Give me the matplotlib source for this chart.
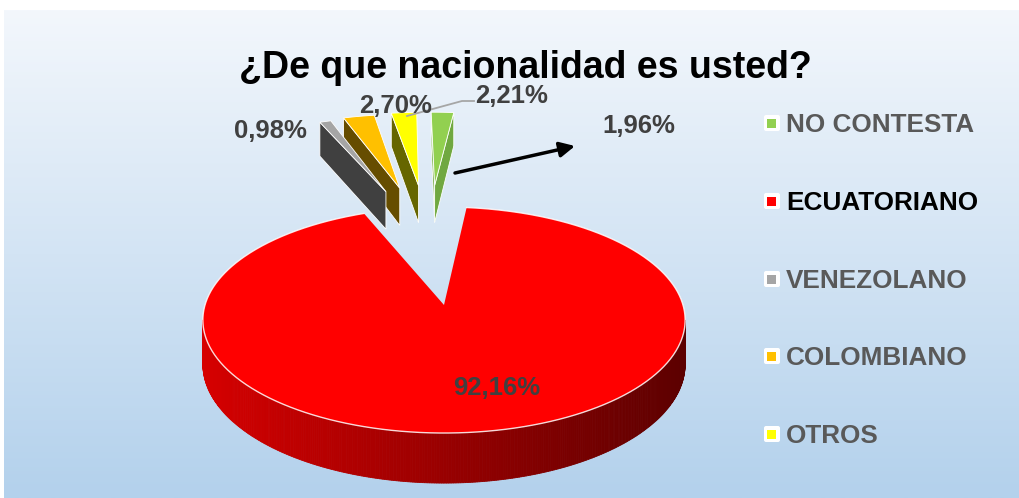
import matplotlib.pyplot as plt
import numpy as np
from matplotlib.patches import Polygon, Rectangle, FancyBboxPatch
from matplotlib.colors import LinearSegmentedColormap, to_rgb

# data (legend / series order)
categories = ['NO CONTESTA', 'ECUATORIANO', 'VENEZOLANO', 'COLOMBIANO', 'OTROS']
values = [1.96, 92.16, 0.98, 2.70, 2.21]
pct_labels = ['1,96%', '92,16%', '0,98%', '2,70%', '2,21%']

colors = ['#92D050', '#FF0000', '#A5A5A5', '#FFC000', '#FFFF00']
side_colors = ['#70A840', '#B00000', '#404040', '#664D00', '#666600']
exploded = [True, False, True, True, True]

W, H = 1020, 498
fig = plt.figure(figsize=(W / 100, H / 100), dpi=100)
ax = fig.add_axes([0, 0, 1, 1])

# background gradient
bg = LinearSegmentedColormap.from_list('bg', ['#F3F7FC', '#B3D1EC'])
ax.imshow(np.linspace(0, 1, 256).reshape(-1, 1), cmap=bg, extent=(4, W, H, 10),
          aspect='auto', zorder=0)
ax.set_xlim(0, W)
ax.set_ylim(H, 0)
ax.axis('off')

# perspective pie projection (screen pixels)
CX, CY = 444, 305
SX, SY, K = 239, 111, 0.133
DEPTH = 43.4
EXP_X, EXP_Z, EXP_DX = 0.6, 1.26, -15


def project(X, Z, dx=0.0, down=False):
	d = 1 + K * np.asarray(Z)
	x = CX + dx + SX * np.asarray(X) / d
	y = CY - SY * np.asarray(Z) / d
	if down:
		y = y + DEPTH / d
	return x, y


def visible(pts):
	# back-face test on screen winding
	pts = np.asarray(pts)
	x, y = pts[:, 0], pts[:, 1]
	return np.sum(x * np.roll(y, -1) - np.roll(x, -1) * y) > 0


start = -0.9
angles = []
a = start
for v in values:
	span = v / sum(values) * 360
	angles.append((a, a + span))
	a += span

slices = []
for i, (t1, t2) in enumerate(angles):
	bis = np.radians((t1 + t2) / 2)
	if exploded[i]:
		ox, oz, dx = EXP_X * np.sin(bis), EXP_Z * np.cos(bis), EXP_DX
	else:
		ox, oz, dx = 0.0, 0.0, 0.0
	slices.append((oz, i, t1, t2, ox, dx))

# far slices first
slices.sort(key=lambda s: -s[0])

for oz, i, t1, t2, ox, dx in slices:
	n = max(3, int(abs(t2 - t1) * 2) + 2)
	th = np.radians(np.linspace(t1, t2, n))
	X = ox + np.sin(th)
	Z = oz + np.cos(th)
	tx, ty = project(X, Z, dx)
	bx, by = project(X, Z, dx, down=True)
	c0 = project(ox, oz, dx)
	b0 = project(ox, oz, dx, down=True)
	c0 = (float(c0[0]), float(c0[1]))
	b0 = (float(b0[0]), float(b0[1]))
	big = not exploded[i]
	ec = 'white' if not big else 'none'

	# outer wall
	for j in range(n - 1):
		quad = [(tx[j + 1], ty[j + 1]), (tx[j], ty[j]), (bx[j], by[j]), (bx[j + 1], by[j + 1])]
		if visible(quad):
			if big:
				f = np.clip((tx[j] - 203) / (686 - 203), 0, 1)
				col = (0.84 - 0.48 * f, 0, 0)
			else:
				col = side_colors[i]
			ax.add_patch(Polygon(quad, closed=True, fc=col, ec=col, lw=0.6, zorder=2))

	# radial faces
	f1 = [c0, b0, (bx[0], by[0]), (tx[0], ty[0])]
	f2 = [c0, (tx[-1], ty[-1]), (bx[-1], by[-1]), b0]
	for face in (f1, f2):
		if visible(face):
			ax.add_patch(Polygon(face, closed=True, fc=side_colors[i], ec=ec, lw=0.6, zorder=2))

	# top face
	top = [c0] + list(zip(tx, ty))
	ax.add_patch(Polygon(top, closed=True, fc=colors[i], ec=ec, lw=0.6, zorder=3))
	if big:
		ax.plot(tx, ty, color='white', lw=1.0, alpha=0.85, zorder=3)

# data labels
lab_pos = {0: (639, 133), 1: (497, 395), 2: (270, 138), 3: (396, 113), 4: (512, 103)}
for i, (x, y) in lab_pos.items():
	ax.text(x, y, pct_labels[i], ha='center', va='baseline', fontsize=18.5,
	        fontweight='bold', color='#404040', family='Liberation Sans', zorder=5)

# leader line for OTROS and arrow for NO CONTESTA
ax.plot([407, 462, 474], [116, 101, 101], color='#A6A6A6', lw=1.3, zorder=4)
ax.annotate('', xy=(575, 146), xytext=(455, 173),
            arrowprops=dict(arrowstyle='-|>,head_length=0.9,head_width=0.45',
                            color='black', lw=2.5, shrinkA=0, shrinkB=0), zorder=5)

# title
ax.text(525, 78, '¿De que nacionalidad es usted?', ha='center', va='baseline',
        fontsize=27, fontweight='bold', color='black', family='Liberation Sans', zorder=5)

# legend
leg_y = [132, 210, 288, 365, 443]
for i, name in enumerate(categories):
	yb = leg_y[i]
	yc = yb - 9
	ax.add_patch(FancyBboxPatch((764, yc - 8), 16, 16, boxstyle='round,pad=0,rounding_size=2',
	                            fc='white', ec='none', zorder=4))
	ax.add_patch(Rectangle((767.5, yc - 4.5), 9, 9, fc=colors[i], ec='none', zorder=5))
	ax.text(786, yb, name, ha='left', va='baseline', fontsize=18.8, fontweight='bold',
	        color='black' if name == 'ECUATORIANO' else '#595959',
	        family='Liberation Sans', zorder=5)

fig.savefig('out.png', dpi=100, facecolor='white')
